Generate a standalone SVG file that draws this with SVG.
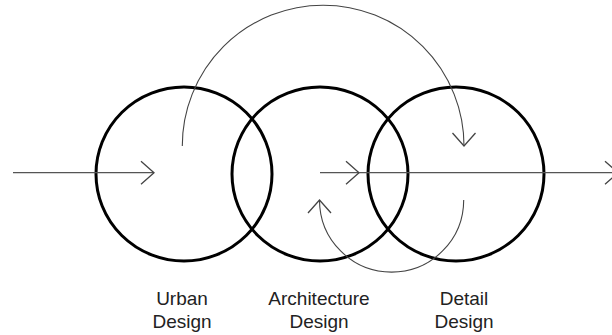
<svg xmlns="http://www.w3.org/2000/svg" width="612" height="335" viewBox="0 0 612 335">
  <defs>
    <marker id="chev" markerUnits="userSpaceOnUse" markerWidth="30" markerHeight="30" refX="0" refY="0" orient="auto" overflow="visible">
      <path d="M-13,-11.5 L0,0 L-13,11.5" fill="none" stroke="#444" stroke-width="1.3"/>
    </marker>
  </defs>
  <style>
    .circle { fill: none; stroke: #000; stroke-width: 3; }
    .flow { fill: none; stroke: #555; stroke-width: 1.3; }
    .arc { fill: none; stroke: #444; stroke-width: 1.1; }
    .label { font-family: "Liberation Sans", Arial, sans-serif; font-size: 19px; fill: #222; text-anchor: middle; }
  </style>
  <rect width="612" height="335" fill="#fff"/>
  <g id="urban">
    <ellipse class="circle" cx="184" cy="174" rx="88" ry="87"/>
    <text class="label" x="182" y="305">Urban</text>
    <text class="label" x="182" y="328">Design</text>
  </g>
  <g id="architecture">
    <ellipse class="circle" cx="320" cy="174" rx="88" ry="87"/>
    <text class="label" x="319" y="305">Architecture</text>
    <text class="label" x="319" y="328">Design</text>
  </g>
  <g id="detail">
    <ellipse class="circle" cx="456" cy="174" rx="88" ry="87"/>
    <text class="label" x="464" y="305">Detail</text>
    <text class="label" x="464" y="328">Design</text>
  </g>
  <g id="connectors">
    <line class="flow" x1="13" y1="172.7" x2="154" y2="172.7" marker-end="url(#chev)"/>
    <line class="flow" x1="320" y1="172.7" x2="359" y2="172.7" marker-end="url(#chev)"/>
    <line class="flow" x1="359" y1="172.7" x2="618" y2="172.7" marker-end="url(#chev)"/>
    <path class="arc" d="M182.3 146 A140.85 140.85 0 0 1 464 146" marker-end="url(#chev)"/>
    <path class="arc" d="M463.7 200 A72.1 72.1 0 0 1 319.5 200" marker-end="url(#chev)"/>
  </g>
</svg>
